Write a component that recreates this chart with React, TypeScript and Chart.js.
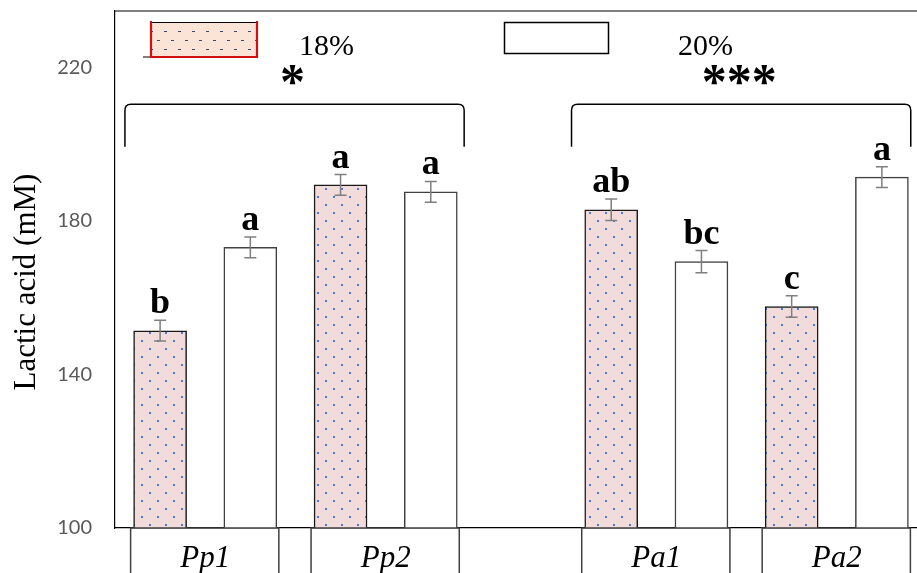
import React, { useEffect, useRef } from 'react';
import { Chart, registerables } from 'chart.js';

Chart.register(...registerables);

// ---- data ----
const GROUPS = ['Pp1', 'Pp2', 'Pa1', 'Pa2'];
const SERIES = ['18%', '20%'];
const VALUES_18 = [151.4, 189.4, 182.9, 157.7];
const VALUES_20 = [173.1, 187.6, 169.4, 191.4];
const ERR_18 = [2.7, 2.7, 2.8, 2.8];
const ERR_20 = [2.7, 2.7, 2.9, 2.7];
const LETTERS_18 = ['b', 'a', 'ab', 'c'];
const LETTERS_20 = ['a', 'a', 'bc', 'a'];
const SIGNIF = ['*', '***'];
const Y_TICKS = [100, 140, 180, 220];
const Y_TITLE = 'Lactic acid (mM)';

// slot index of a bar: groups 0,1 then one empty slot, then groups 2,3
const slotOf = (g: number, s: number) => g * 2 + (g >= 2 ? 1 : 0) + s;

function makeBarPattern(ctx: CanvasRenderingContext2D) {
  const pc = document.createElement('canvas');
  pc.width = 16;
  pc.height = 16;
  const p = pc.getContext('2d')!;
  p.fillStyle = '#f2dcdb';
  p.fillRect(0, 0, 16, 16);
  p.fillStyle = '#4f7cc6';
  p.fillRect(5, 12, 2, 2);
  p.fillRect(13, 4, 2, 2);
  return ctx.createPattern(pc, 'repeat')!;
}

function makeLegendPattern(ctx: CanvasRenderingContext2D) {
  const pc = document.createElement('canvas');
  pc.width = 14;
  pc.height = 18;
  const p = pc.getContext('2d')!;
  p.fillStyle = '#fbe4d5';
  p.fillRect(0, 0, 14, 18);
  p.fillStyle = '#3b4a6b';
  p.fillRect(3, 4, 3, 1);
  p.fillRect(10, 13, 3, 1);
  return ctx.createPattern(pc, 'repeat')!;
}

const zeroPad = (s: any) => {
  s.paddingLeft = 0;
  s.paddingRight = 0;
  s.paddingTop = 0;
  s.paddingBottom = 0;
};

export default function App() {
  const ref = useRef<HTMLCanvasElement>(null);

  useEffect(() => {
    const canvas = ref.current!;
    const ctx0 = canvas.getContext('2d')!;
    const barPattern = makeBarPattern(ctx0);
    const legendPattern = makeLegendPattern(ctx0);

    const annot = {
      id: 'annot',
      afterDatasetsDraw(chart: any) {
        const { ctx, chartArea } = chart;
        const y = chart.scales.y;
        const x = chart.scales.x;
        ctx.save();

        // top border of plot area
        ctx.strokeStyle = '#000';
        ctx.lineWidth = 1.2;
        ctx.beginPath();
        ctx.moveTo(chartArea.left, chartArea.top);
        ctx.lineTo(chartArea.right, chartArea.top);
        ctx.stroke();

        // error bars + letters
        const series = [
          { vals: VALUES_18, errs: ERR_18, letters: LETTERS_18 },
          { vals: VALUES_20, errs: ERR_20, letters: LETTERS_20 },
        ];
        series.forEach((s, si) => {
          const meta = chart.getDatasetMeta(si);
          meta.data.forEach((bar: any, i: number) => {
            const cx = bar.x;
            const top = y.getPixelForValue(s.vals[i] + s.errs[i]);
            const bot = y.getPixelForValue(s.vals[i] - s.errs[i]);
            ctx.strokeStyle = '#7f7f7f';
            ctx.lineWidth = 1.5;
            ctx.beginPath();
            ctx.moveTo(cx, top);
            ctx.lineTo(cx, bot);
            ctx.moveTo(cx - 6, top);
            ctx.lineTo(cx + 6, top);
            ctx.moveTo(cx - 6, bot);
            ctx.lineTo(cx + 6, bot);
            ctx.stroke();
            ctx.fillStyle = '#000';
            ctx.font = 'bold 36px "Liberation Serif", "Times New Roman", serif';
            ctx.textAlign = 'center';
            ctx.textBaseline = 'alphabetic';
            ctx.fillText(s.letters[i], cx, top - 7);
          });
        });

        // brackets + significance
        const spans = [
          [-0.39, 3.37],
          [4.56, 8.32],
        ];
        const yTop = y.getPixelForValue(210.4);
        const yEnd = y.getPixelForValue(199.3);
        const ySig = y.getPixelForValue(218);
        spans.forEach(([a, b], k) => {
          const l = x.getPixelForValue(a);
          const r = x.getPixelForValue(b);
          const rad = 6;
          ctx.strokeStyle = '#000';
          ctx.lineWidth = 1.5;
          ctx.beginPath();
          ctx.moveTo(l, yEnd);
          ctx.lineTo(l, yTop + rad);
          ctx.quadraticCurveTo(l, yTop, l + rad, yTop);
          ctx.lineTo(r - rad, yTop);
          ctx.quadraticCurveTo(r, yTop, r, yTop + rad);
          ctx.lineTo(r, yEnd);
          ctx.stroke();

          ctx.font = 'bold 50px "Liberation Serif", "Times New Roman", serif';
          ctx.textAlign = 'center';
          ctx.textBaseline = 'alphabetic';
          const m = ctx.measureText(SIGNIF[k]);
          const base = ySig + (m.actualBoundingBoxAscent - m.actualBoundingBoxDescent) / 2;
          ctx.fillStyle = '#000';
          ctx.fillText(SIGNIF[k], (l + r) / 2 - 2, base);
        });

        // legend
        // 18%
        ctx.fillStyle = legendPattern;
        ctx.fillRect(150, 22, 108, 35);
        ctx.strokeStyle = '#000';
        ctx.lineWidth = 1;
        ctx.beginPath();
        ctx.moveTo(150, 22.5);
        ctx.lineTo(258, 22.5);
        ctx.moveTo(143, 57);
        ctx.lineTo(150, 57);
        ctx.stroke();
        ctx.strokeStyle = '#d01010';
        ctx.lineWidth = 2.2;
        ctx.beginPath();
        ctx.moveTo(151, 21);
        ctx.lineTo(151, 57);
        ctx.lineTo(257, 57);
        ctx.lineTo(257, 21);
        ctx.stroke();
        // 20%
        ctx.fillStyle = '#fff';
        ctx.fillRect(504, 22, 105, 32);
        ctx.strokeStyle = '#000';
        ctx.lineWidth = 1.5;
        ctx.strokeRect(504.5, 22.5, 104, 31);

        ctx.fillStyle = '#000';
        ctx.font = '30px "Liberation Serif", "Times New Roman", serif';
        ctx.textAlign = 'left';
        ctx.textBaseline = 'alphabetic';
        ctx.fillText(SERIES[0], 299, 55);
        ctx.fillText(SERIES[1], 678, 55);

        ctx.restore();
      },
      afterDraw(chart: any) {
        const { ctx, chartArea } = chart;
        ctx.save();
        // category boxes under the axis
        const m0 = chart.getDatasetMeta(0);
        const m1 = chart.getDatasetMeta(1);
        ctx.strokeStyle = '#404040';
        ctx.lineWidth = 1.5;
        GROUPS.forEach((_, g) => {
          const b0 = m0.data[g];
          const b1 = m1.data[g];
          const l = b0.x - b0.width / 2 - 3;
          const r = b1.x + b1.width / 2 + 2;
          const t = chartArea.bottom;
          ctx.beginPath();
          ctx.moveTo(l, 600);
          ctx.lineTo(l, t);
          ctx.lineTo(r, t);
          ctx.lineTo(r, 600);
          ctx.stroke();
        });
        // y axis title
        ctx.fillStyle = '#000';
        ctx.font = '31px "Liberation Serif", "Times New Roman", serif';
        ctx.textAlign = 'center';
        ctx.textBaseline = 'alphabetic';
        ctx.translate(34.5, 282);
        ctx.rotate(-Math.PI / 2);
        ctx.fillText(Y_TITLE, 0, 0);
        ctx.restore();
      },
    };

    const chart = new Chart(canvas, {
      type: 'bar',
      data: {
        datasets: [
          {
            label: SERIES[0],
            data: GROUPS.map((_, i) => ({ x: slotOf(i, 0), y: VALUES_18[i] })) as any,
            backgroundColor: barPattern as any,
            borderColor: '#1a1a1a',
            borderWidth: 1.5,
            grouped: false,
            barThickness: 53,
          },
          {
            label: SERIES[1],
            data: GROUPS.map((_, i) => ({ x: slotOf(i, 1), y: VALUES_20[i] })) as any,
            backgroundColor: '#ffffff',
            borderColor: '#404040',
            borderWidth: 1.5,
            grouped: false,
            barThickness: 53,
          },
        ],
      },
      options: {
        animation: false,
        responsive: false,
        layout: { padding: { top: 11, right: 0, bottom: 0, left: 0 } },
        plugins: {
          legend: { display: false },
          tooltip: { enabled: false },
        },
        scales: {
          x: {
            type: 'linear',
            offset: false,
            bounds: 'data',
            min: -0.5,
            max: 8.5,
            grid: { display: false, drawTicks: false, offset: false },
            border: { display: true, color: '#000', width: 1.2 },
            afterBuildTicks: (s: any) => {
              s.ticks = GROUPS.map((_, i) => ({ value: slotOf(i, 0) + 0.5 }));
            },
            afterFit: (s: any) => {
              s.height = 45;
              zeroPad(s);
            },
            ticks: {
              autoSkip: false,
              maxRotation: 0,
              minRotation: 0,
              padding: 12,
              color: '#000',
              font: { family: '"Liberation Serif", "Times New Roman", serif', size: 31, style: 'italic' },
              callback: (_v: any, i: number) => GROUPS[i],
            },
          },
          y: {
            min: 100,
            max: 234.7,
            bounds: 'data',
            grid: { display: false, drawTicks: false },
            border: { display: true, color: '#000', width: 1.2 },
            afterBuildTicks: (s: any) => {
              s.ticks = Y_TICKS.map((v) => ({ value: v }));
            },
            afterFit: (s: any) => {
              s.width = 115;
              zeroPad(s);
            },
            ticks: {
              padding: 23,
              color: '#595959',
              font: { family: 'Lato', size: 20 },
            },
          },
        },
      } as any,
      plugins: [annot],
    });

    return () => chart.destroy();
  }, []);

  return (
    <div style={{ position: 'fixed', left: 0, top: 0, width: 917, height: 573, overflow: 'hidden', background: '#fff' }}>
      <canvas ref={ref} width={927} height={573} style={{ display: 'block', width: 927, height: 573 }} />
    </div>
  );
}
